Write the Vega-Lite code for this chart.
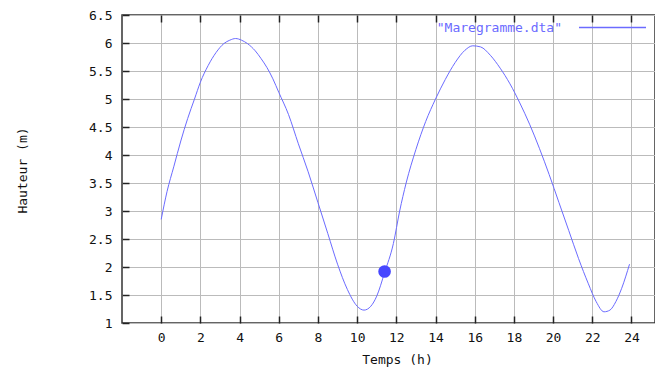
{
  "$schema": "https://vega.github.io/schema/vega-lite/v6.json",
  "width": 533,
  "height": 308,
  "autosize": {"type": "none"},
  "padding": {"left": 122, "top": 15, "right": 0, "bottom": 45},
  "background": "white",
  "config": {
    "view": {"stroke": "#333333", "strokeWidth": 1.5},
    "font": "DejaVu Sans Mono",
    "axis": {
      "labelFont": "DejaVu Sans Mono",
      "titleFont": "DejaVu Sans Mono",
      "labelFontSize": 13,
      "titleFontSize": 13,
      "titleFontWeight": "normal",
      "labelColor": "#111111",
      "titleColor": "#111111",
      "gridColor": "#bbbbbb",
      "gridWidth": 1,
      "gridOpacity": 1,
      "tickColor": "#222222",
      "tickWidth": 1.5,
      "domain": false,
      "labelOverlap": false
    },
    "legend": {
      "labelFont": "DejaVu Sans Mono",
      "labelFontSize": 13
    }
  },
  "datasets": {
    "maree": [
      {"t": 0, "h": 2.85, "s": "\"Maregramme.dta\""},
      {"t": 0.3, "h": 3.35, "s": "\"Maregramme.dta\""},
      {"t": 0.65, "h": 3.8, "s": "\"Maregramme.dta\""},
      {"t": 1, "h": 4.25, "s": "\"Maregramme.dta\""},
      {"t": 1.35, "h": 4.65, "s": "\"Maregramme.dta\""},
      {"t": 1.7, "h": 5.0, "s": "\"Maregramme.dta\""},
      {"t": 2, "h": 5.3, "s": "\"Maregramme.dta\""},
      {"t": 2.4, "h": 5.6, "s": "\"Maregramme.dta\""},
      {"t": 2.8, "h": 5.83, "s": "\"Maregramme.dta\""},
      {"t": 3.2, "h": 5.99, "s": "\"Maregramme.dta\""},
      {"t": 3.5, "h": 6.05, "s": "\"Maregramme.dta\""},
      {"t": 3.8, "h": 6.08, "s": "\"Maregramme.dta\""},
      {"t": 4.1, "h": 6.05, "s": "\"Maregramme.dta\""},
      {"t": 4.4, "h": 5.99, "s": "\"Maregramme.dta\""},
      {"t": 4.8, "h": 5.86, "s": "\"Maregramme.dta\""},
      {"t": 5.1, "h": 5.72, "s": "\"Maregramme.dta\""},
      {"t": 5.4, "h": 5.56, "s": "\"Maregramme.dta\""},
      {"t": 5.7, "h": 5.36, "s": "\"Maregramme.dta\""},
      {"t": 6, "h": 5.12, "s": "\"Maregramme.dta\""},
      {"t": 6.5, "h": 4.72, "s": "\"Maregramme.dta\""},
      {"t": 7, "h": 4.2, "s": "\"Maregramme.dta\""},
      {"t": 7.5, "h": 3.7, "s": "\"Maregramme.dta\""},
      {"t": 8, "h": 3.15, "s": "\"Maregramme.dta\""},
      {"t": 8.5, "h": 2.6, "s": "\"Maregramme.dta\""},
      {"t": 9, "h": 2.05, "s": "\"Maregramme.dta\""},
      {"t": 9.5, "h": 1.6, "s": "\"Maregramme.dta\""},
      {"t": 10, "h": 1.3, "s": "\"Maregramme.dta\""},
      {"t": 10.35, "h": 1.23, "s": "\"Maregramme.dta\""},
      {"t": 10.7, "h": 1.3, "s": "\"Maregramme.dta\""},
      {"t": 11, "h": 1.48, "s": "\"Maregramme.dta\""},
      {"t": 11.4, "h": 1.9, "s": "\"Maregramme.dta\""},
      {"t": 11.85, "h": 2.42, "s": "\"Maregramme.dta\""},
      {"t": 12.17, "h": 3.0, "s": "\"Maregramme.dta\""},
      {"t": 12.5, "h": 3.5, "s": "\"Maregramme.dta\""},
      {"t": 13, "h": 4.1, "s": "\"Maregramme.dta\""},
      {"t": 13.5, "h": 4.6, "s": "\"Maregramme.dta\""},
      {"t": 14, "h": 5.0, "s": "\"Maregramme.dta\""},
      {"t": 14.5, "h": 5.35, "s": "\"Maregramme.dta\""},
      {"t": 15, "h": 5.65, "s": "\"Maregramme.dta\""},
      {"t": 15.5, "h": 5.87, "s": "\"Maregramme.dta\""},
      {"t": 15.9, "h": 5.95, "s": "\"Maregramme.dta\""},
      {"t": 16.3, "h": 5.93, "s": "\"Maregramme.dta\""},
      {"t": 16.8, "h": 5.78, "s": "\"Maregramme.dta\""},
      {"t": 17.3, "h": 5.55, "s": "\"Maregramme.dta\""},
      {"t": 17.8, "h": 5.27, "s": "\"Maregramme.dta\""},
      {"t": 18.3, "h": 4.93, "s": "\"Maregramme.dta\""},
      {"t": 18.8, "h": 4.55, "s": "\"Maregramme.dta\""},
      {"t": 19.3, "h": 4.12, "s": "\"Maregramme.dta\""},
      {"t": 19.8, "h": 3.65, "s": "\"Maregramme.dta\""},
      {"t": 20.3, "h": 3.15, "s": "\"Maregramme.dta\""},
      {"t": 20.8, "h": 2.65, "s": "\"Maregramme.dta\""},
      {"t": 21.3, "h": 2.15, "s": "\"Maregramme.dta\""},
      {"t": 21.8, "h": 1.7, "s": "\"Maregramme.dta\""},
      {"t": 22.2, "h": 1.38, "s": "\"Maregramme.dta\""},
      {"t": 22.6, "h": 1.2, "s": "\"Maregramme.dta\""},
      {"t": 22.9, "h": 1.23, "s": "\"Maregramme.dta\""},
      {"t": 23.2, "h": 1.38, "s": "\"Maregramme.dta\""},
      {"t": 23.5, "h": 1.62, "s": "\"Maregramme.dta\""},
      {"t": 23.9, "h": 2.05, "s": "\"Maregramme.dta\""}
    ],
    "instant": [
      {"t": 11.4, "h": 1.92}
    ]
  },
  "layer": [
    {
      "data": {"name": "maree"},
      "mark": {"type": "line", "strokeWidth": 1, "interpolate": "monotone"},
      "encoding": {
        "x": {
          "field": "t", "type": "quantitative",
          "scale": {"domain": [-2, 25.2], "nice": false, "zero": false},
          "axis": {
            "values": [0, 2, 4, 6, 8, 10, 12, 14, 16, 18, 20, 22, 24],
            "grid": true,
            "tickSize": -7,
            "labelPadding": 15,
            "title": "Temps (h)",
            "titleX": 275,
            "titleY": 36,
            "titleBaseline": "middle",
            "titleAlign": "center"
          }
        },
        "y": {
          "field": "h", "type": "quantitative",
          "scale": {"domain": [1, 6.5], "nice": false, "zero": false},
          "axis": {
            "values": [1, 1.5, 2, 2.5, 3, 3.5, 4, 4.5, 5, 5.5, 6, 6.5],
            "format": "~g",
            "grid": true,
            "tickSize": -7,
            "labelPadding": 17,
            "labelAlign": "right",
            "title": "Hauteur (m)",
            "titleAngle": -90,
            "titleX": -100,
            "titleY": 155,
            "titleAlign": "center",
            "titleBaseline": "middle"
          }
        },
        "color": {
          "field": "s", "type": "nominal",
          "scale": {"range": ["#6b6bff"]},
          "legend": {
            "title": null,
            "orient": "none",
            "legendX": 452,
            "legendY": -26,
            "symbolType": "stroke",
            "symbolSize": 4489,
            "symbolStrokeWidth": 1.5,
            "symbolStrokeColor": "#6b6bff",
            "labelAlign": "right",
            "labelOffset": -85,
            "labelColor": "#6b6bff",
            "padding": 4
          }
        }
      }
    },
    {
      "data": {"name": "instant"},
      "mark": {"type": "point", "filled": true, "shape": "circle", "size": 160, "color": "#4646ff", "opacity": 1},
      "encoding": {
        "x": {
          "field": "t", "type": "quantitative",
          "axis": {
            "orient": "top",
            "values": [0, 2, 4, 6, 8, 10, 12, 14, 16, 18, 20, 22, 24],
            "labels": false,
            "grid": false,
            "tickSize": -7,
            "title": null
          }
        },
        "y": {
          "field": "h", "type": "quantitative",
          "axis": {
            "values": [1, 1.5, 2, 2.5, 3, 3.5, 4, 4.5, 5, 5.5, 6, 6.5],
            "format": "~g",
            "grid": true,
            "tickSize": -7,
            "labelPadding": 17,
            "labelAlign": "right",
            "title": "Hauteur (m)",
            "titleAngle": -90,
            "titleX": -100,
            "titleY": 155,
            "titleAlign": "center",
            "titleBaseline": "middle"
          }
        }
      }
    }
  ],
  "resolve": {"axis": {"x": "independent"}}
}
